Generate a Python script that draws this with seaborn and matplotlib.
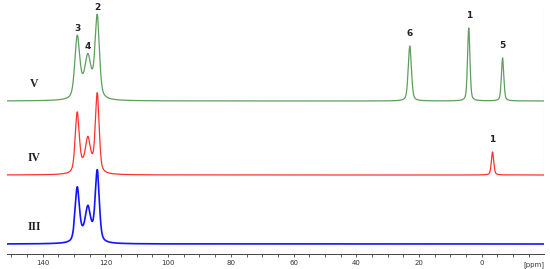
import matplotlib
matplotlib.use("Agg")
import matplotlib.pyplot as plt
import seaborn as sns
import numpy as np
import pandas as pd
from matplotlib.ticker import MultipleLocator

# peak tables: centre (ppm), height, width (ppm)
# the first entry of each aromatic set is the broad band under peaks 2-4
v_centres = [125.6, 129.0, 125.6, 122.6, 22.9, 4.1, -6.7]
v_heights = [22, 58, 22, 77, 55, 73, 43]
v_widths = [5.0, 1.8, 1.8, 1.6, 1.2, 0.9, 0.9]
v_labels = ["", "3", "4", "2", "6", "1", "5"]

iv_centres = [125.6, 129.0, 125.6, 122.6, -3.5]
iv_heights = [14, 58, 22, 76, 23]
iv_widths = [5.0, 1.5, 1.6, 1.4, 0.9]
iv_labels = ["", "", "", "", "1"]

iii_centres = [125.6, 129.0, 125.6, 122.6]
iii_heights = [14, 52, 22, 68]
iii_widths = [5.0, 1.6, 1.7, 1.5]

names = ["V", "IV", "III"]
baselines = [153, 79, 10]
colors = ["#5e9e5e", "#ff3030", "#1414ff"]

ppm = np.linspace(151.4, -19.9, 3000)


def spectrum(centres, heights, widths):
    y = np.zeros_like(ppm)
    for c, h, w in zip(centres, heights, widths):
        d = (ppm - c) / w
        y += h * (0.6 * np.exp(-4 * np.log(2) * d ** 2) + 0.4 / (1 + 4 * d ** 2))
    return y


sns.set_theme(style="white")
fig = plt.figure(figsize=(5.5, 2.69), dpi=100)
ax = fig.add_axes([7 / 550, 15 / 269, 537 / 550, 254 / 269])

tables = [(v_centres, v_heights, v_widths, v_labels),
          (iv_centres, iv_heights, iv_widths, iv_labels),
          (iii_centres, iii_heights, iii_widths, None)]

for (cen, hts, wds, labs), name, base, col in zip(tables, names, baselines, colors):
    df = pd.DataFrame({"ppm": ppm, "I": base + spectrum(cen, hts, wds)})
    sns.lineplot(data=df, x="ppm", y="I", ax=ax, color=col,
                 lw=1.2 if name == "III" else 0.9)
    ax.text(142.8, base + 17, name, fontsize=8.5, fontweight="bold",
            family="Liberation Serif", color="#222222", ha="center", va="center")
    if labs:
        for c, lab in zip(cen, labs):
            if not lab:
                continue
            near = np.abs(ppm - c) < 0.6
            top = df["I"][near].max()
            # aromatic labels sit close to their peaks, the others a bit higher
            off = 5 if c > 100 else 9
            ax.annotate(lab, (c, top), xytext=(0, off), textcoords="offset points",
                        ha="center", va="center", fontsize=6.5, fontweight="bold",
                        color="#222222")

# thin frame pieces at the right edge
ax.vlines([-19.9, -19.9], [184, 78], [247, 169], color="#c8c8c8", lw=0.8)

ax.set_xlim(151.4, -19.9)
ax.set_ylim(0, 254)
ax.set_xlabel("")
ax.set_ylabel("")
ax.set_yticks([])
ax.xaxis.set_minor_locator(MultipleLocator(5))
ax.set_xticks(np.arange(0, 141, 20))
ax.tick_params(axis="x", which="both", direction="out", length=2.5, width=0.6,
               color="#444444", labelsize=5, labelcolor="#333333", pad=1.5, bottom=True)
for s in ["top", "left", "right"]:
    ax.spines[s].set_visible(False)
ax.spines["bottom"].set_color("#444444")
ax.spines["bottom"].set_linewidth(0.7)
ax.patch.set_alpha(0)
ax.text(1.0, -0.028, "[ppm]", transform=ax.transAxes, ha="right", va="top",
        fontsize=5, color="#333333")

fig.savefig("out.png", dpi=100)
